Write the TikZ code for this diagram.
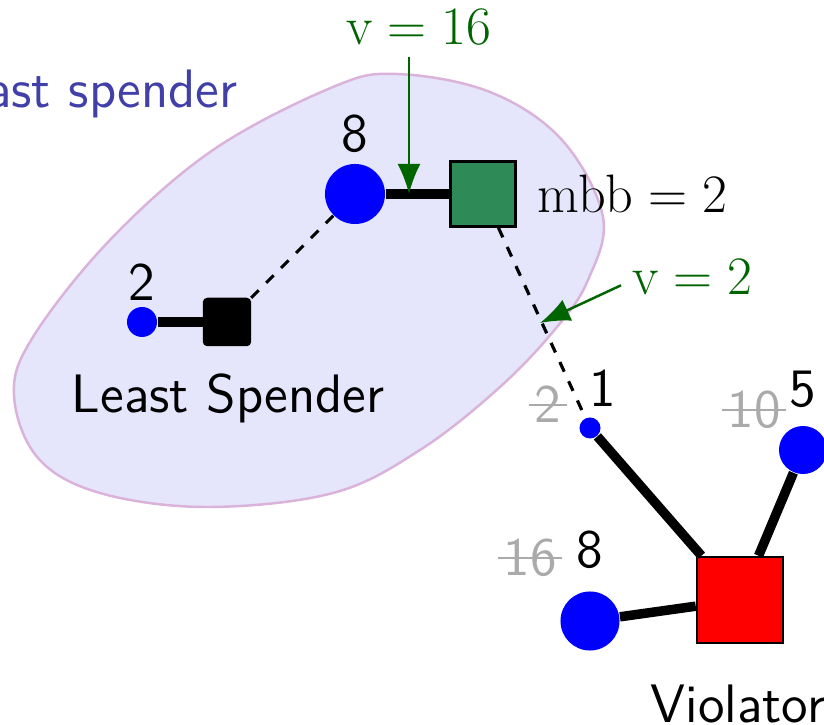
\documentclass[tikz,border=0pt]{standalone}
\usepackage{xcolor}
\usepackage{amsmath}
\usepackage{tikz}
\usetikzlibrary{arrows.meta, positioning}
\definecolor{regionfill}{RGB}{229,229,251}
\definecolor{regionline}{RGB}{218,178,218}
\definecolor{regiontext}{RGB}{64,64,168}
\definecolor{mbbgreen}{RGB}{46,139,87}
\definecolor{vgreen}{RGB}{0,100,0}
\definecolor{oldgray}{RGB}{170,170,170}
\newcommand{\picfont}{\fontsize{15.4}{18.5}\selectfont}
\newcommand{\eqsign}{\hspace{0.2778em}=\hspace{0.2778em}}
\newcommand{\crossed}[1]{\setbox0=\hbox{#1}\rlap{\kern-0.1em\rule[0.31em]{\dimexpr\wd0+0.2em\relax}{0.04em}}\box0}
\tikzset{
  agentnode/.style={circle, fill=blue, inner sep=0pt},
  goodbox/.style={rectangle, draw=black, line width=0.7pt, inner sep=0pt},
  strongline/.style={draw, line width=2.7pt, color=black},
  weakline/.style={draw, dashed, line width=0.9pt, color=black},
  varrow/.style={-{Latex[length=3mm, width=2.3mm]}, color=vgreen, line width=0.7pt},
  numlbl/.style={font=\picfont\sffamily, anchor=base, inner sep=0pt},
  oldlbl/.style={font=\picfont\sffamily, anchor=base, inner sep=0pt, text=oldgray},
  mathlbl/.style={font=\picfont\rmfamily, anchor=base west, inner sep=0pt}
}
\begin{document}
\begin{tikzpicture}[x=0.01cm, y=-0.01cm]
  \useasboundingbox (0,0) rectangle (824,725);

  % Least spender region
  \draw[fill=regionfill, draw=regionline, line width=0.7pt] plot[smooth cycle, tension=0.6] coordinates {
    (397,74) (490,92) (562,140) (603,217) (588,280) (557,327) (500,387) (420,450)
    (333,493) (207,507) (100,493) (38,458) (14,395) (33,337) (110,240) (213,150) (333,87)};
  \node[numlbl, text=regiontext, anchor=base east] (region) at (238,108) {Least spender};

  % Least spender side
  \node[agentnode, minimum size=0.30cm] (a2) at (142,322) {};
  \node[goodbox, fill=black, minimum size=0.46cm, rounded corners=1pt] (ls) at (227,322) {};
  \node[agentnode, minimum size=0.60cm] (a8) at (355,194) {};
  \node[goodbox, fill=mbbgreen, minimum size=0.65cm] (gsq) at (483,194) {};

  % Violator side
  \node[agentnode, minimum size=0.21cm] (a1) at (590,428) {};
  \node[agentnode, minimum size=0.48cm] (a5) at (803,450) {};
  \node[agentnode, minimum size=0.59cm] (a8b) at (590,621) {};
  \node[goodbox, fill=red, minimum size=0.86cm] (vsq) at (740,600) {};

  % Connections
  \draw[strongline] (a2) -- (ls);
  \draw[strongline] (a8) -- (gsq);
  \draw[weakline] (ls) -- (a8);
  \draw[weakline] (gsq) -- (a1);
  \draw[strongline] (a1) -- (vsq);
  \draw[strongline] (a5) -- (vsq);
  \draw[strongline] (a8b) -- (vsq);

  % Values
  \node[numlbl] (l2) at (142,301) {2};
  \node[numlbl] (l8) at (355,152) {8};
  \node[numlbl] (l1) at (603,407) {1};
  \node[oldlbl] (o2) at (548,423) {\crossed{2}};
  \node[numlbl] (l5) at (803,407) {5};
  \node[oldlbl] (o10) at (754,428) {\crossed{10}};
  \node[numlbl] (l8b) at (590,568) {8};
  \node[oldlbl] (o16) at (530,576) {\crossed{16}};

  % Names
  \node[numlbl] (lsname) at (228,413) {Least Spender};
  \node[numlbl] (vname) at (738,723) {Violator};
  \node[mathlbl] (mbb) at (537,213) {mbb\eqsign2};

  % Green pointers
  \node[mathlbl, anchor=base, inner sep=3pt, text=vgreen] (v16) at (419,45) {v\eqsign16};
  \coordinate (v16tip) at (409,194);
  \draw[varrow] (v16.south -| v16tip) -- (v16tip);
  \node[mathlbl, inner sep=3pt, text=vgreen] (v2) at (621,295) {v\eqsign2};
  \coordinate (v2tip) at (540,323);
  \draw[varrow] ([yshift=-0.08cm]v2.west) -- (v2tip);
\end{tikzpicture}
\end{document}
